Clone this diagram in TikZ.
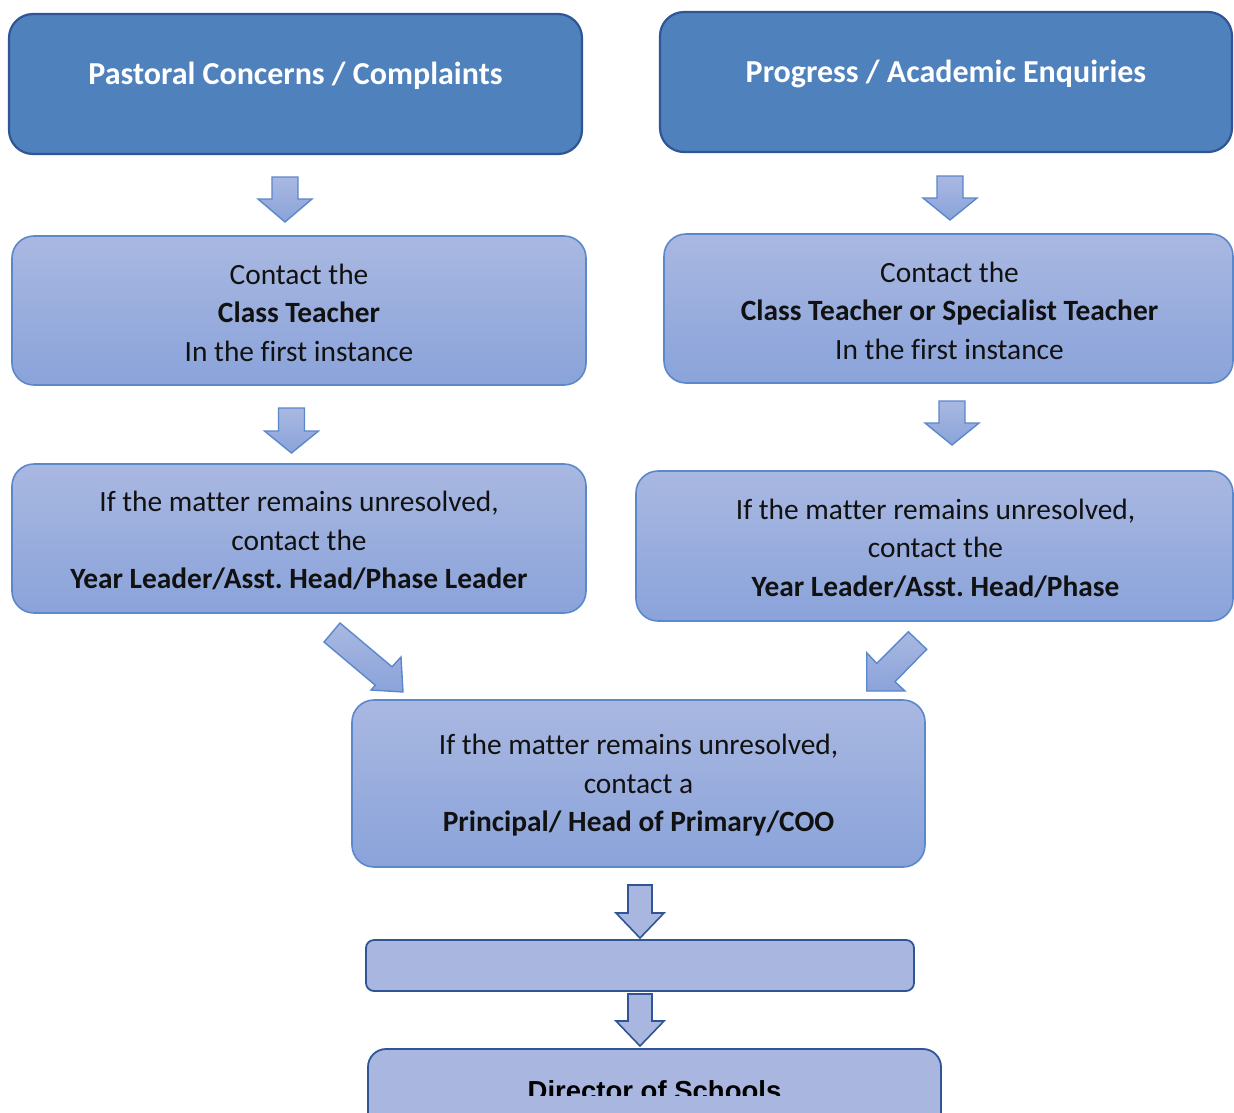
\documentclass[tikz,border=0pt]{standalone}
\usepackage{fontspec}
\setmainfont[Ligatures=NoCommon]{Carlito}
\newfontfamily\dirfont{Liberation Sans}
\frenchspacing
\definecolor{topfill}{HTML}{4F81BD}
\definecolor{topline}{HTML}{2F5597}
\definecolor{gradtop}{HTML}{A9B8E1}
\definecolor{gradbot}{HTML}{8AA3DA}
\definecolor{gradline}{HTML}{5B87CB}
\definecolor{flatfill}{HTML}{A9B7E0}
\definecolor{flatline}{HTML}{2F5597}
\definecolor{txt}{HTML}{111111}
\begin{document}
\begin{tikzpicture}[x=1pt,y=-1pt,
  topbox/.style={draw=topline, line width=2.2pt, fill=topfill, rounded corners=24pt},
  gradbox/.style={draw=gradline, line width=1.6pt, top color=gradtop, bottom color=gradbot, rounded corners=22pt},
  flatbox/.style={draw=flatline, line width=1.8pt, fill=flatfill, rounded corners=8pt},
  flatbigbox/.style={draw=flatline, line width=1.8pt, fill=flatfill, rounded corners=18pt},
  gradarrow/.style={draw=gradline, line width=1.4pt, top color=gradtop, bottom color=gradbot, line join=miter},
  flatarrow/.style={draw=flatline, line width=1.6pt, fill=flatfill, line join=miter},
  titletext/.style={text=white, font=\fontsize{32}{38}\selectfont\bfseries, inner sep=0pt},
  bodytext/.style={text=txt, font=\fontsize{29.4}{38.5}\selectfont\frenchspacing, align=center, inner sep=0pt},
  bodylabel/.style={bodytext, yshift=-2pt},
]
\useasboundingbox (0,0) rectangle (1234,1112);
\clip (0,0) rectangle (1234,1112);

% top boxes
\path[topbox] (9,14) rectangle (582,154);
\coordinate (b1c) at (295.5,76);
\node[titletext] (t1) at (b1c) {Pastoral Concerns / Complaints};
\path[topbox] (660,12) rectangle (1232,152);
\coordinate (b2c) at (946,74);
\node[titletext] (t2) at (b2c) {Progress / Academic Enquiries};

% down arrows (block)
\path[gradarrow] (272,177) -- (298,177) -- (298,199) -- (312,199) -- (285,222) -- (258,199) -- (272,199) -- cycle;
\path[gradarrow] (278.5,408) -- (304.5,408) -- (304.5,431) -- (318.5,431) -- (291.5,453) -- (264.5,431) -- (278.5,431) -- cycle;
\path[gradarrow] (937,176) -- (963,176) -- (963,198) -- (977,198) -- (950,220) -- (923,198) -- (937,198) -- cycle;
\path[gradarrow] (939,401) -- (965,401) -- (965,423) -- (979,423) -- (952,445) -- (925,423) -- (939,423) -- cycle;

% left column boxes
\node[gradbox, minimum width=574pt, minimum height=149pt] (l2) at (299,310.5) {};
\node[bodylabel] (l2t) at (l2.center) {Contact the\\\textbf{Class Teacher}\\In the first instance};
\node[gradbox, minimum width=574pt, minimum height=149pt] (l3) at (299,538.5) {};
\node[bodylabel] (l3t) at (l3.center) {If the matter remains unresolved,\\contact the\\\textbf{Year Leader/Asst. Head/Phase Leader}};

% right column boxes
\node[gradbox, minimum width=569pt, minimum height=149pt] (r2) at (948.5,308.5) {};
\node[bodylabel] (r2t) at ([xshift=1pt]r2.center) {Contact the\\\textbf{Class Teacher or Specialist Teacher}\\In the first instance};
\node[gradbox, minimum width=597pt, minimum height=150pt] (r3) at (934.5,546) {};
\node[bodylabel] (r3t) at ([xshift=1pt]r3.center) {If the matter remains unresolved,\\contact the\\\textbf{Year Leader/Asst. Head/Phase}};

% diagonal arrows
\path[gradarrow] (340,623) -- (392,666.8) -- (401,657) -- (403,692) -- (371,690) -- (375.3,685.2) -- (324,642) -- cycle;
\path[gradarrow] (908.3,631.7) -- (926.7,649.3) -- (895,681.7) -- (905,691) -- (866.7,691) -- (866.7,652.7) -- (876.7,663.3) -- cycle;

% centre box
\node[gradbox, minimum width=573pt, minimum height=167pt] (c1) at (638.5,783.5) {};
\node[bodylabel] (c1t) at (c1.center) {If the matter remains unresolved,\\contact a\\\textbf{Principal/ Head of Primary/COO}};

% bottom arrows and boxes
\path[flatarrow] (628,885) -- (652,885) -- (652,913) -- (664,913) -- (640,938) -- (616,913) -- (628,913) -- cycle;
\node[flatbox, minimum width=548pt, minimum height=51pt] (c2) at (640,965.5) {};
\path[flatarrow] (628,994) -- (652,994) -- (652,1021) -- (664,1021) -- (640,1046) -- (616,1021) -- (628,1021) -- cycle;
\node[flatbigbox, minimum width=573pt, minimum height=130pt] (c3) at (654.5,1114) {};
\begin{scope}
\clip (368,1049) rectangle (941,1095.5);
\node[anchor=base, inner sep=0pt, text=black, font=\dirfont\fontsize{27.5}{30}\selectfont\bfseries] (dir) at (654.5,1100) {Director of Schools};
\end{scope}
\end{tikzpicture}
\end{document}
